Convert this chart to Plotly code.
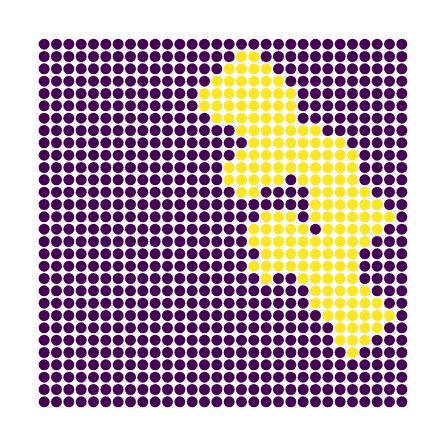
import plotly.graph_objects as go

# 30x30 grid of class labels, row 0 = top row, '1' = yellow class
grid_rows = [
    "000000000000000000000000000000",
    "000000000000000011000000000000",
    "000000000000000111100000000000",
    "000000000000001111110000000000",
    "000000000000011111111000000000",
    "000000000000011111111000000000",
    "000000000000001111111000000000",
    "000000000000000011111110000000",
    "000000000000000001111111100000",
    "000000000000000011111111110000",
    "000000000000000111111111110000",
    "000000000000000111110111110000",
    "000000000000000011000011111000",
    "000000000000000000000011111100",
    "000000000000000000111011111110",
    "000000000000000001111101111100",
    "000000000000000001111111111000",
    "000000000000000000111111110000",
    "000000000000000001111111110000",
    "000000000000000000100111110000",
    "000000000000000000000011111000",
    "000000000000000000000011111100",
    "000000000000000000000001111110",
    "000000000000000000000000111100",
    "000000000000000000000000111000",
    "000000000000000000000000010000",
    "000000000000000000000000000000",
    "000000000000000000000000000000",
    "000000000000000000000000000000",
    "000000000000000000000000000000",
]
class_colors = ["#440154", "#fde725"]

xs, ys, cs = [], [], []
n = len(grid_rows)
for r, row in enumerate(grid_rows):
    for c, ch in enumerate(row):
        xs.append(c)
        ys.append(n - 1 - r)
        cs.append(class_colors[int(ch)])

fig = go.Figure(go.Scatter(
    x=xs, y=ys, mode="markers",
    marker=dict(size=11, color=cs, line=dict(width=0)),
    hoverinfo="skip", showlegend=False,
))
fig.update_xaxes(visible=False, range=[-0.5, n - 0.5])
fig.update_yaxes(visible=False, range=[-0.5, n - 0.5])
fig.update_layout(
    width=446, height=446,
    margin=dict(l=38, r=38, t=38, b=38),
    plot_bgcolor="white", paper_bgcolor="white",
)
fig.write_html("out.html")
